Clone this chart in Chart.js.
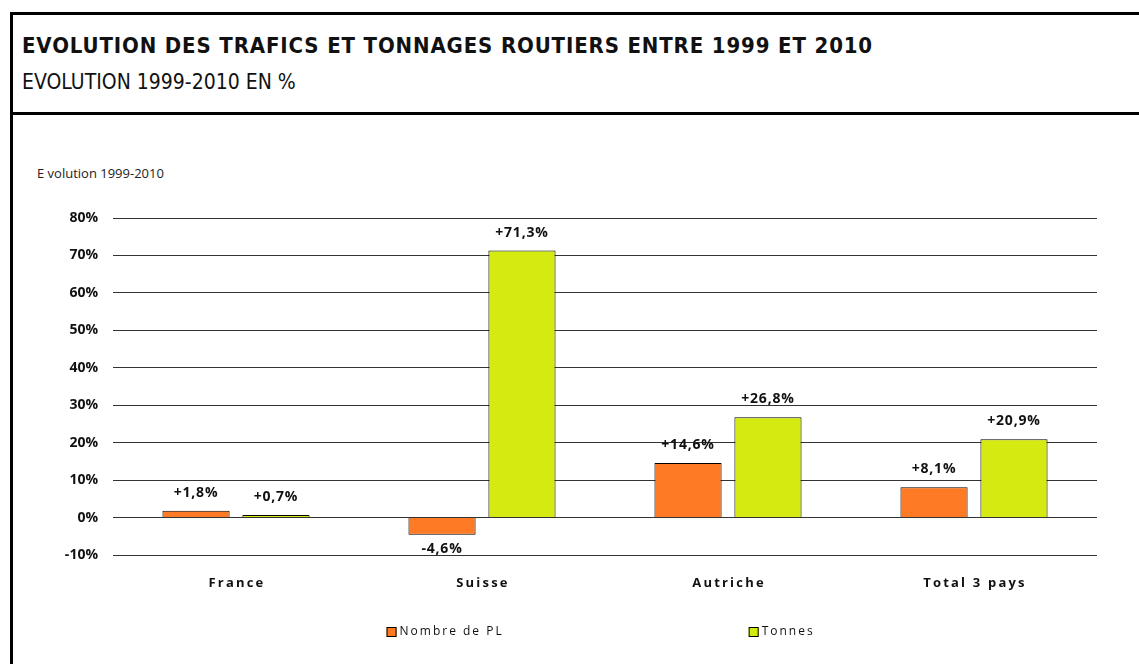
<!DOCTYPE html>
<html>
<head>
<meta charset="utf-8">
<script src="https://cdn.jsdelivr.net/npm/chart.js@4"></script>
<style>
  body { margin: 0; background: #fff; width: 1139px; height: 664px; overflow: hidden; position: relative; }
  #cadre { position: absolute; left: 10px; top: 12px; width: 1200px; height: 700px; border: 3px solid #000; box-sizing: border-box; }
  #entete { position: absolute; left: 10px; top: 112px; width: 1200px; border-top: 3px solid #000; }
  #titre { position: absolute; left: 22px; top: 33px; font: bold 22px "DejaVu Sans Condensed", "DejaVu Sans", sans-serif; letter-spacing: 0.85px; color: #111; white-space: nowrap; }
  #soustitre { position: absolute; left: 22px; top: 70px; font: 21px "DejaVu Sans Condensed", "DejaVu Sans", sans-serif; color: #111; white-space: nowrap; }
  #axe { position: absolute; left: 37px; top: 164px; font: 13px "Open Sans", sans-serif; color: #222; }
  #zone { position: absolute; left: 0; top: 116px; width: 1139px; height: 548px; }
</style>
</head>
<body>
<div id="cadre"></div>
<div id="entete"></div>
<div id="titre">EVOLUTION DES TRAFICS ET TONNAGES ROUTIERS ENTRE 1999 ET 2010</div>
<div id="soustitre">EVOLUTION 1999-2010 EN %</div>
<div id="axe">E volution 1999-2010</div>
<div id="zone"><canvas id="graphique"></canvas></div>
<script>
const pays = ['France', 'Suisse', 'Autriche', 'Total 3 pays'];
const nombrePL = [1.8, -4.6, 14.6, 8.1];
const tonnes = [0.7, 71.3, 26.8, 20.9];
const graduations = [-10, 0, 10, 20, 30, 40, 50, 60, 70, 80];

function formatValeur(v) {
    const txt = Math.abs(v).toFixed(1).replace('.', ',');
    return (v < 0 ? '-' : '+') + txt + '%';
}

// étiquettes au-dessus (ou en dessous) des barres
const etiquettes = {
    id: 'etiquettes',
    afterDatasetsDraw(chart) {
        const ctx = chart.ctx;
        ctx.save();
        ctx.font = 'bold 14px "Open Sans", sans-serif';
        ctx.letterSpacing = '0.8px';
        ctx.fillStyle = '#111';
        ctx.textAlign = 'center';
        ctx.textBaseline = 'middle';
        chart.data.datasets.forEach((ds, i) => {
            chart.getDatasetMeta(i).data.forEach((bar, j) => {
                const v = ds.data[j];
                const y = v < 0 ? bar.y + 14 : bar.y - 18;
                ctx.fillText(formatValeur(v), bar.x, y);
            });
        });
        ctx.restore();
    }
};

// noms des pays espacés (l'axe x garde sa place mais ses libellés sont transparents)
const nomsPays = {
    id: 'nomsPays',
    afterDraw(chart) {
        const ctx = chart.ctx;
        const x = chart.scales.x;
        ctx.save();
        ctx.font = 'bold 13px "Open Sans", sans-serif';
        ctx.letterSpacing = '2.2px';
        ctx.fillStyle = '#111';
        ctx.textAlign = 'center';
        ctx.textBaseline = 'middle';
        chart.data.labels.forEach((lbl, i) => {
            ctx.fillText(lbl, x.getPixelForTick(i) + 1, chart.chartArea.bottom + 28);
        });
        ctx.restore();
    }
};

// légende dessinée à la main (les items sont très espacés dans l'original)
const legende = {
    id: 'legende',
    afterDraw(chart) {
        const ctx = chart.ctx;
        const area = chart.chartArea;
        const y = area.bottom + 77;
        const positions = [0.278, 0.646];
        ctx.save();
        ctx.font = '12px "Open Sans", sans-serif';
        ctx.letterSpacing = '2px';
        ctx.textBaseline = 'middle';
        chart.data.datasets.forEach((ds, i) => {
            const x = area.left + (area.right - area.left) * positions[i];
            ctx.fillStyle = ds.backgroundColor;
            ctx.fillRect(x, y - 5, 10, 10);
            ctx.strokeStyle = '#000';
            ctx.lineWidth = 1;
            ctx.strokeRect(x + 0.5, y - 4.5, 9, 9);
            ctx.fillStyle = '#111';
            ctx.fillText(ds.label, x + 13, y);
        });
        ctx.restore();
    }
};

const canvas = document.getElementById('graphique');
new Chart(canvas, {
    type: 'bar',
    data: {
        labels: pays,
        datasets: [{
            label: 'Nombre de PL',
            data: nombrePL,
            backgroundColor: '#FF7A25',
            borderColor: '#000',
            borderWidth: 1
        }, {
            label: 'Tonnes',
            data: tonnes,
            backgroundColor: '#D4EA10',
            borderColor: '#000',
            borderWidth: 1
        }]
    },
    options: {
        responsive: true,
        maintainAspectRatio: false,
        animation: false,
        datasets: {
            bar: { barPercentage: 0.84, categoryPercentage: 0.65 }
        },
        layout: { padding: { top: 102, right: 42, left: 0, bottom: 65 } },
        scales: {
            x: {
                grid: { display: false, drawTicks: false },
                border: { display: false },
                ticks: {
                    color: 'rgba(0,0,0,0)',
                    font: { family: '"Open Sans", sans-serif', size: 13, weight: 'bold' },
                    padding: 19
                },
                afterFit(scale) { scale.height = 44; }
            },
            y: {
                min: -10,
                max: 80,
                afterBuildTicks(scale) { scale.ticks = graduations.map(v => ({ value: v })); },
                grid: { color: '#333', lineWidth: 1, drawTicks: false },
                border: { display: false },
                ticks: {
                    autoSkip: false,
                    color: '#111',
                    font: { family: '"Open Sans", sans-serif', size: 14, weight: 'bold' },
                    padding: 15,
                    callback: v => v + '%'
                },
                afterFit(scale) { scale.width = 113; }
            }
        },
        plugins: {
            legend: { display: false },
            tooltip: { enabled: false }
        }
    },
    plugins: [etiquettes, nomsPays, legende]
});
</script>
</body>
</html>
